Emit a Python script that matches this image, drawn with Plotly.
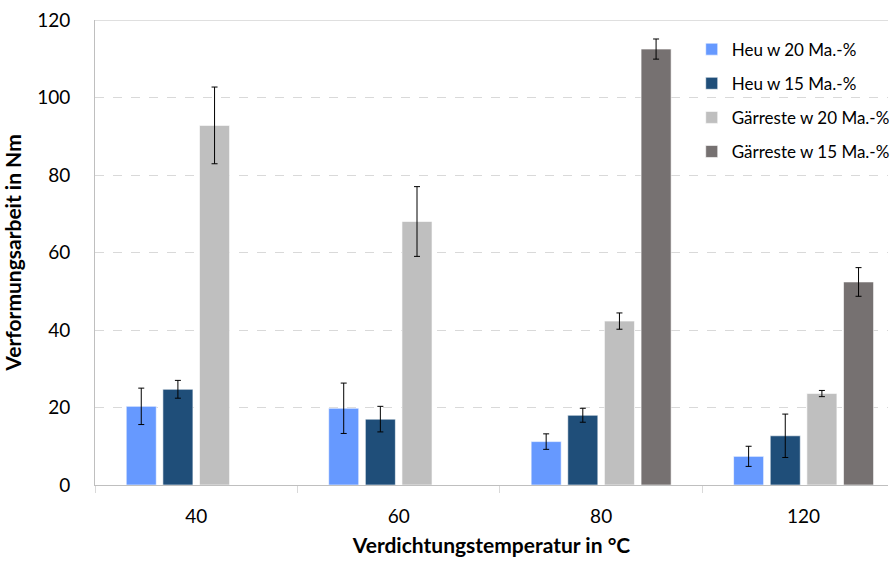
import plotly.graph_objects as go

categories = ["40", "60", "80", "120"]
series_names = ["Heu w 20 Ma.-%", "Heu w 15 Ma.-%", "Gärreste w 20 Ma.-%", "Gärreste w 15 Ma.-%"]
heu20 = [20.3, 19.8, 11.2, 7.4]
heu20_err = [4.7, 6.5, 2.0, 2.6]
heu15 = [24.7, 17.0, 18.0, 12.7]
heu15_err = [2.3, 3.3, 1.8, 5.6]
gaer20 = [92.8, 68.0, 42.3, 23.6]
gaer20_err = [9.9, 9.0, 2.1, 0.8]
gaer15 = [None, None, 112.5, 52.4]
gaer15_err = [None, None, 2.6, 3.7]
tick_vals = [0, 20, 40, 60, 80, 100, 120]

colors = ["#6699FF", "#1F4E79", "#BFBFBF", "#767171"]
values = [heu20, heu15, gaer20, gaer15]
errors = [heu20_err, heu15_err, gaer20_err, gaer15_err]

FONT = "Lato"
fig = go.Figure()
for i, (name, vals, errs, col) in enumerate(zip(series_names, values, errors, colors)):
    fig.add_trace(go.Bar(
        x=categories, y=vals, name=name,
        marker=dict(color=col, line=dict(color="rgba(255,255,255,0.6)", width=1)),
        error_y=dict(type="data", array=errs, visible=True, color="#000000", thickness=1, width=3),
        legendgroup=f"g{i}",
    ))

fig.add_shape(type="line", xref="paper", yref="y", x0=0, x1=1, y0=120, y1=120,
              line=dict(color="#BFBFBF", width=1))

fig.update_layout(
    width=895, height=561,
    margin=dict(l=95, r=0, t=20, b=76),
    paper_bgcolor="white", plot_bgcolor="white",
    barmode="group", bargap=0.276, bargroupgap=0.18,
    font=dict(family=FONT, color="#000000"),
    showlegend=True,
    legend=dict(x=0.7525, y=0.975, xanchor="left", yanchor="top",
                font=dict(family=FONT, size=17, color="#000000"),
                tracegroupgap=9, bgcolor="rgba(0,0,0,0)"),
    xaxis=dict(
        type="category", range=[-0.5, 3.417],
        showline=True, linecolor="#BFBFBF", linewidth=1,
        ticks="outside", tickson="boundaries", ticklen=7, tickcolor="#D9D9D9",
        tickfont=dict(family=FONT, size=19), ticklabelstandoff=14,
        title=dict(text="<b>Verdichtungstemperatur in °C</b>", font=dict(family=FONT, size=21), standoff=12),
        showgrid=False,
    ),
    yaxis=dict(
        range=[0, 120], tickvals=tick_vals,
        showline=True, linecolor="#BFBFBF", linewidth=1,
        showgrid=True, gridcolor="#D9D9D9", griddash="dash", gridwidth=1,
        zeroline=False,
        tickfont=dict(family=FONT, size=19), ticklabelstandoff=20,
        title=dict(text="<b>Verformungsarbeit in Nm</b>", font=dict(family=FONT, size=21), standoff=10),
    ),
)

fig.write_html("out.html", config={"displayModeBar": False},
               post_script="document.body.style.margin='0';")
